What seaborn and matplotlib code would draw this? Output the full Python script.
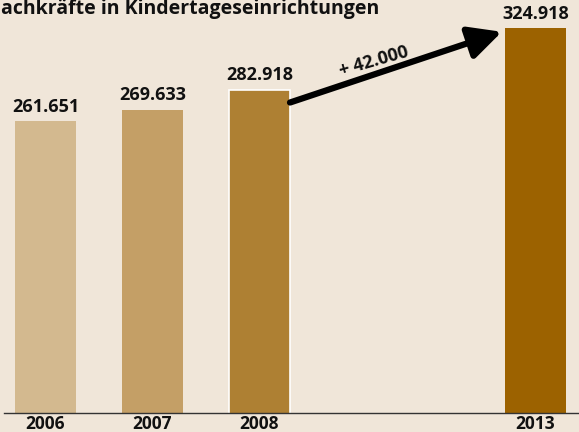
import seaborn as sns
import matplotlib.pyplot as plt
import pandas as pd

# data
years = ["2006", "2007", "2008", "2013"]
staff = [261651, 269633, 282918, 324918]
labels = ["261.651", "269.633", "282.918", "324.918"]
growth_label = "+ 42.000"
title = "achkräfte in Kindertageseinrichtungen"  # cut at the left in the original

# layout (position on the x axis, gap before 2013)
xpos = [0, 1, 2, 4.58]
colors = ["#d3b98f", "#c49f66", "#ae8033", "#9c6200"]
bg = "#f0e6d9"

sns.set_theme(style="white")
plt.rcParams['font.family'] = ['Open Sans', 'DejaVu Sans']

df = pd.DataFrame({"pos": xpos, "year": years, "staff": staff})

fig = plt.figure(figsize=(5.79, 4.32), dpi=100, facecolor=bg)
ax = fig.add_axes([4 / 579, 19 / 432, 575 / 579, 413 / 432])
ax.set_facecolor(bg)

sns.barplot(data=df, x="pos", y="staff", hue="year", palette=colors,
            native_scale=True, width=0.57, dodge=False, legend=False,
            saturation=1, linewidth=0, ax=ax)

# white edge on the 2008 bar
ax.patches[2].set_edgecolor("white")
ax.patches[2].set_linewidth(1.2)

ax.set_xlim(-0.388, 4.986)
ax.set_ylim(63700, 344000)

for x, v, t in zip(xpos, staff, labels):
    ax.annotate(t, (x, v), xytext=(0, 4), textcoords="offset points",
                ha="center", va="bottom", fontsize=13, fontweight="bold",
                color="#111111")

# growth arrow 2008 -> 2013
w = 0.57
x0, y0 = xpos[2] + w / 2, staff[2] - 8500
x1, y1 = xpos[3] - w / 2 - 0.03, staff[3] - 2500
ax.annotate("", xy=(x1, y1), xytext=(x0, y0),
            arrowprops=dict(arrowstyle="-|>,head_length=1.1,head_width=0.55",
                            lw=4.5, color="black", mutation_scale=18,
                            shrinkA=0, shrinkB=0))
t = 0.41
ax.annotate(growth_label, (x0 + t * (x1 - x0), y0 + t * (y1 - y0)),
            xytext=(-2.5, 9), textcoords="offset points",
            ha="center", va="center", rotation=16, fontsize=13,
            fontweight="bold", color="#111111")

ax.set_xticks(xpos, years)
ax.tick_params(axis="x", length=0, pad=1.5, labelsize=12.5, labelcolor="#111111")
for lab in ax.get_xticklabels():
    lab.set_fontweight("bold")
ax.set_yticks([])
ax.set_xlabel("")
ax.set_ylabel("")
for s in ["top", "left", "right"]:
    ax.spines[s].set_visible(False)
ax.spines["bottom"].set_color("#333333")
ax.spines["bottom"].set_linewidth(1.0)

fig.text(1 / 579, 1 - 14 / 432, title, ha="left", va="baseline",
         fontsize=14, fontweight="bold", color="#111111")

fig.savefig("out.png", dpi=100, facecolor=bg)
